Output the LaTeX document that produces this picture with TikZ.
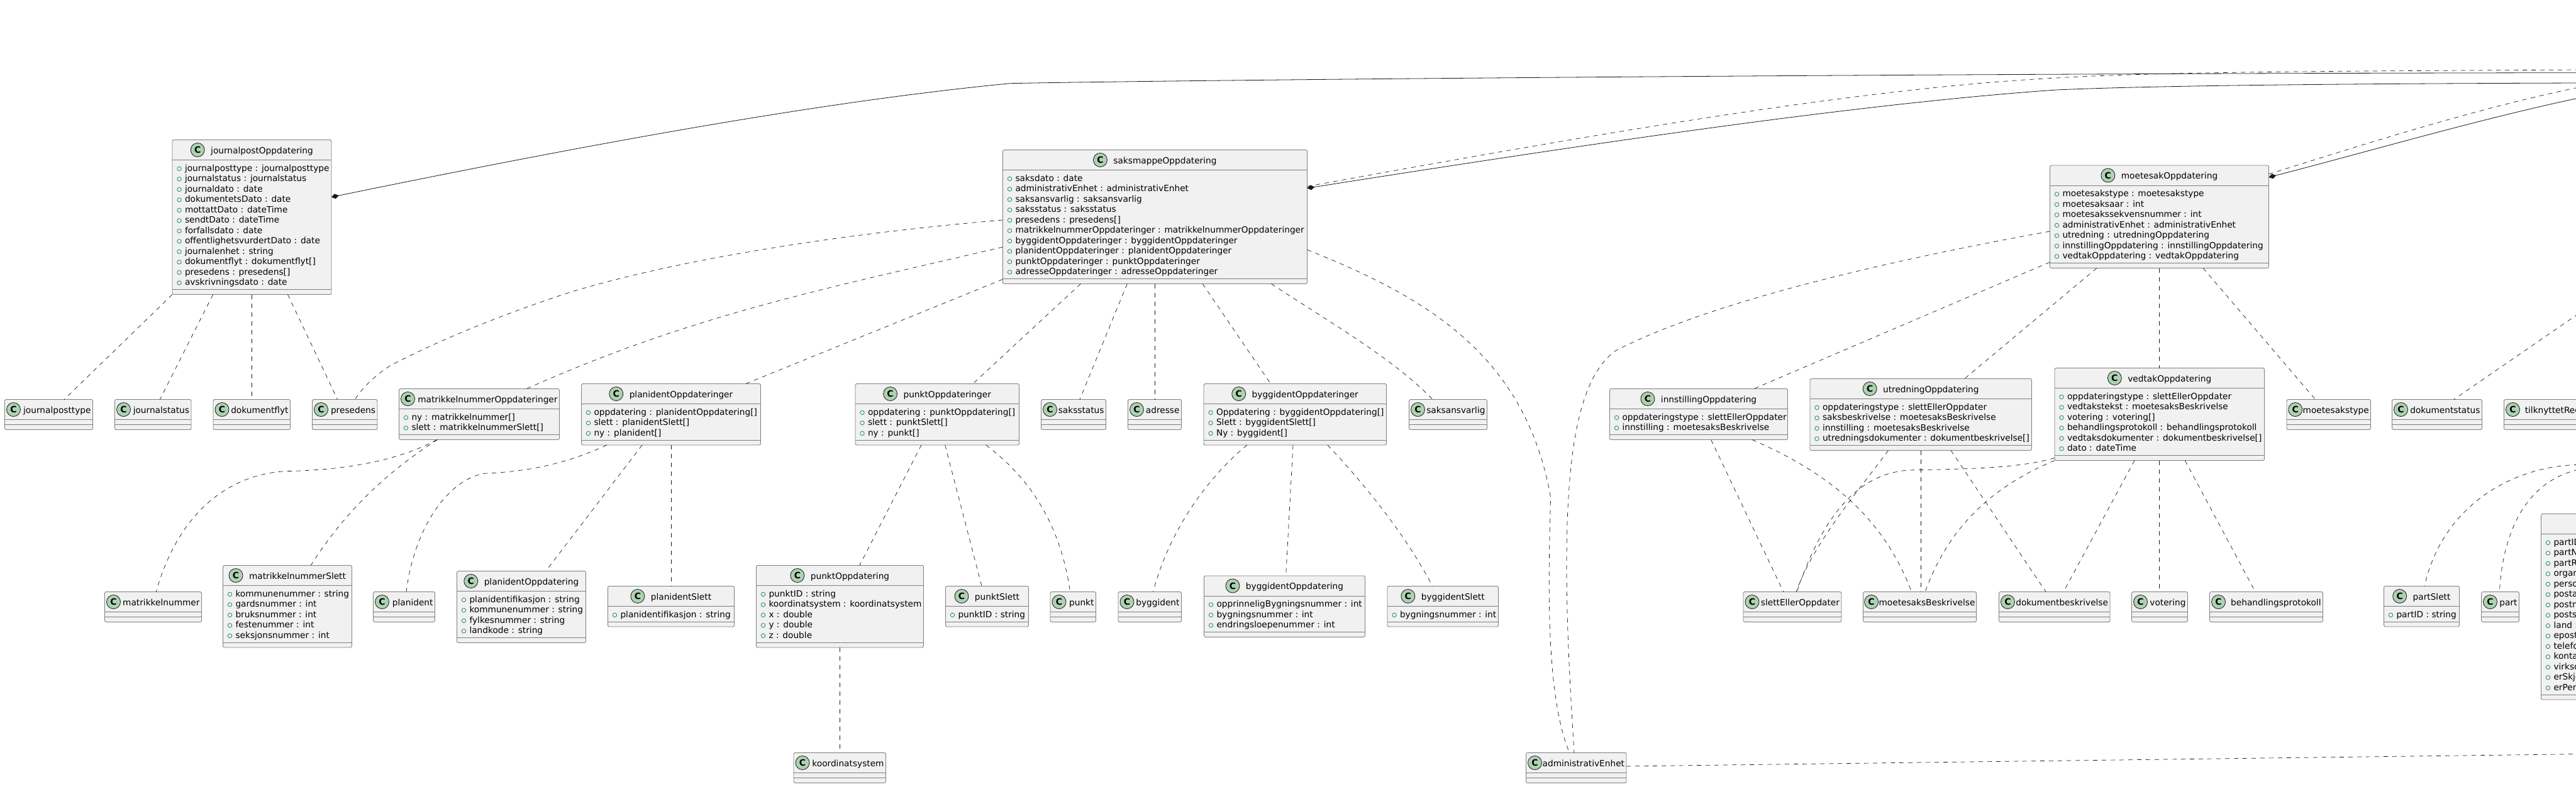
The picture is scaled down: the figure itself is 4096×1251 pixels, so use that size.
\documentclass[tikz,border=0pt]{standalone}
\usepackage{fontspec}
\setmainfont{DejaVu Sans}
\usetikzlibrary{arrows.meta}

\definecolor{classfill}{HTML}{F1F1F1}
\definecolor{classedge}{HTML}{7F7F7F}
\definecolor{iconfill}{HTML}{ADD1B2}
\definecolor{bulletedge}{HTML}{038048}
\definecolor{linkink}{HTML}{181818}

\newlength{\titlewd}
\newsavebox{\titlebox}
\newcommand{\umlfont}{\fontsize{13.7}{16.5}\selectfont}
% id, left, top, right, number of rows, title, rows
\newcommand{\umlclass}[7]{%
    \pgfinterruptpicture\global\setbox\titlebox=\hbox{\umlfont #6}\endpgfinterruptpicture
    \setlength{\titlewd}{\wd\titlebox}%
    \pgfmathsetmacro{\boxw}{#4-#2}%
    \pgfmathsetmacro{\boxh}{48+16.5*#5}%
    \pgfmathsetmacro{\gapw}{min(10,max(1,\boxw-28-\titlewd))}%
    \pgfmathsetmacro{\iconx}{(#2+#4)/2-(22+\gapw+\titlewd)/2+11}%
    \pgfmathsetmacro{\titlex}{\iconx+11+\gapw}%
    \node[classbox, minimum width=\boxw pt, minimum height=\boxh pt] (#1) at (#2,#3) {};
    \draw[classline] ([yshift=-32]#1.north west) -- ([yshift=-32]#1.north east);
    \draw[classline] ([yshift=8]#1.south west) -- ([yshift=8]#1.south east);
    \def\titletext{#6}%
    \ifx\titletext\empty\else
        \node[classicon] (#1-icon) at (\iconx,#3+16) {C};
        \node[classtext] (#1-title) at (\titlex,#3+21.5) {#6};
    \fi
    \ifnum#5>0
        \foreach \rowtext [count=\rowno] in {#7} {
            \node[classbullet] (#1-b\rowno) at (#2+11,#3+29.4+16.5*\rowno) {};
            \node[classtext] (#1-r\rowno) at (#2+20,#3+33+16.5*\rowno) {\rowtext};
        }
    \fi
}

\begin{document}
\begin{tikzpicture}[x=1pt,y=-1pt,>=Stealth]
    \tikzstyle{classbox}=[draw=classedge,fill=classfill,line width=.9pt,rounded corners=2.5pt,anchor=north west,inner sep=0pt,outer sep=0pt]
    \tikzstyle{classline}=[draw=classedge,line width=.9pt]
    \tikzstyle{classicon}=[circle,draw=linkink,fill=iconfill,line width=.8pt,minimum size=22pt,inner sep=0pt,font=\bfseries\fontsize{14}{14}\selectfont]
    \tikzstyle{classtext}=[anchor=base west,inner sep=0pt,outer sep=0pt,font=\umlfont,text=black]
    \tikzstyle{classbullet}=[circle,draw=bulletedge,fill=classfill,line width=.7pt,minimum size=6.5pt,inner sep=0pt]
    \tikzstyle{dep}=[draw=linkink,line width=.7pt,dash pattern=on 7pt off 7pt]
    \tikzstyle{comp}=[draw=linkink,line width=.8pt,{Diamond[length=12pt,width=8pt,fill=linkink]}-]

    \useasboundingbox (0,0) rectangle (4096,1251);
    \clip (0,0) rectangle (4096,1251);

    \umlclass{journalpost}{274}{222.5}{527}{12}{journalpostOppdatering}{journalposttype : journalposttype,journalstatus : journalstatus,journaldato : date,dokumentetsDato : date,mottattDato : dateTime,sendtDato : dateTime,forfallsdato : date,offentlighetsvurdertDato : date,journalenhet : string,dokumentflyt : dokumentflyt[],presedens : presedens[],avskrivningsdato : date}
    \umlclass{journalposttype}{7.5}{635.5}{147.5}{0}{journalposttype}{}
    \umlclass{journalstatus}{182.5}{635.5}{304}{0}{journalstatus}{}
    \umlclass{dokumentflyt}{339}{635.5}{461.5}{0}{dokumentflyt}{}
    \umlclass{presedens}{496.5}{635.5}{600}{0}{presedens}{}

    \umlclass{saksmappe}{1594.5}{238.5}{2078.5}{10}{saksmappeOppdatering}{saksdato : date,administrativEnhet : administrativEnhet,saksansvarlig : saksansvarlig,saksstatus : saksstatus,presedens : presedens[],matrikkelnummerOppdateringer : matrikkelnummerOppdateringer,byggidentOppdateringer : byggidentOppdateringer,planidentOppdateringer : planidentOppdateringer,punktOppdateringer : punktOppdateringer,adresseOppdateringer : adresseOppdateringer}
    \umlclass{matrOppd}{634.5}{618.5}{889.5}{2}{matrikkelnummerOppdateringer}{ny : matrikkelnummer[],slett : matrikkelnummerSlett[]}
    \umlclass{matrNummer}{166.5}{941.5}{320.5}{0}{matrikkelnummer}{}
    \umlclass{matrSlett}{354.5}{899.5}{559.5}{5}{matrikkelnummerSlett}{kommunenummer : string,gardsnummer : int,bruksnummer : int,festenummer : int,seksjonsnummer : int}
    \umlclass{planOppd}{924.5}{610.5}{1209.5}{3}{planidentOppdateringer}{oppdatering : planidentOppdatering[],slett : planidentSlett[],ny : planident[]}
    \umlclass{planident}{593.5}{941.5}{691.5}{0}{planident}{}
    \umlclass{planEn}{726.5}{908.5}{931.5}{4}{planidentOppdatering}{planidentifikasjon : string,kommunenummer : string,fylkesnummer : string,landkode : string}
    \umlclass{planSlett}{966.5}{932.5}{1167.5}{1}{planidentSlett}{planidentifikasjon : string}
    \umlclass{punktOppd}{1360}{610.5}{1620.5}{3}{punktOppdateringer}{oppdatering : punktOppdatering[],slett : punktSlett[],ny : punkt[]}
    \umlclass{punktEn}{1202.5}{899.5}{1468.5}{5}{punktOppdatering}{punktID : string,koordinatsystem : koordinatsystem,x : double,y : double,z : double}
    \umlclass{punktSlett}{1503.5}{932.5}{1635.5}{1}{punktSlett}{punktID : string}
    \umlclass{punkt}{1670}{941.5}{1742.5}{0}{punkt}{}
    \umlclass{koord}{1262}{1197.5}{1408.5}{0}{koordinatsystem}{}
    \umlclass{saksstatus}{1655.5}{635.5}{1758.5}{0}{saksstatus}{}
    \umlclass{adresse}{1793.5}{635.5}{1878.5}{0}{adresse}{}
    \umlclass{byggOppd}{1914}{610.5}{2204.5}{3}{byggidentOppdateringer}{Oppdatering : byggidentOppdatering[],Slett : byggidentSlett[],Ny : byggident[]}
    \umlclass{saksansvarlig}{2240.5}{635.5}{2364.5}{0}{saksansvarlig}{}
    \umlclass{byggident}{1778}{941.5}{1878.5}{0}{byggident}{}
    \umlclass{byggEn}{1914.5}{916}{2170.5}{3}{byggidentOppdatering}{opprinneligBygningsnummer : int,bygningsnummer : int,endringsloepenummer : int}
    \umlclass{byggSlett}{2206}{932.5}{2382.5}{1}{byggidentSlett}{bygningsnummer : int}
    \umlclass{admin}{2426.5}{1197.5}{2586}{0}{administrativEnhet}{}

    \umlclass{moetesak}{3259.5}{263}{3607.5}{7}{moetesakOppdatering}{moetesakstype : moetesakstype,moetesaksaar : int,moetesakssekvensnummer : int,administrativEnhet : administrativEnhet,utredning : utredningOppdatering,innstillingOppdatering : innstillingOppdatering,vedtakOppdatering : vedtakOppdatering}
    \umlclass{innst}{2559.5}{618.5}{2842.5}{2}{innstillingOppdatering}{oppdateringstype : slettEllerOppdater,innstilling : moetesaksBeskrivelse}
    \umlclass{utred}{2878}{602.5}{3230.5}{4}{utredningOppdatering}{oppdateringstype : slettEllerOppdater,saksbeskrivelse : moetesaksBeskrivelse,innstilling : moetesaksBeskrivelse,utredningsdokumenter : dokumentbeskrivelse[]}
    \umlclass{vedtak}{3267}{585.5}{3600.5}{6}{vedtakOppdatering}{oppdateringstype : slettEllerOppdater,vedtakstekst : moetesaksBeskrivelse,votering : votering[],behandlingsprotokoll : behandlingsprotokoll,vedtaksdokumenter : dokumentbeskrivelse[],dato : dateTime}
    \umlclass{moetesakstype}{3636}{635.5}{3769.5}{0}{moetesakstype}{}
    \umlclass{dokumentstatus}{3803.5}{635.5}{3946.5}{0}{dokumentstatus}{}
    \umlclass{tilknyttet}{3981.5}{635.5}{4106}{0}{tilknyttetReg}{}
    \umlclass{slettEller}{2772}{941.5}{2928}{0}{slettEllerOppdater}{}
    \umlclass{moetesaksB}{2962.5}{941.5}{3142.5}{0}{moetesaksBeskrivelse}{}
    \umlclass{dokumentB}{3178.5}{941.5}{3355}{0}{dokumentbeskrivelse}{}
    \umlclass{votering}{3389.5}{941.5}{3478.5}{0}{votering}{}
    \umlclass{behandling}{3513.5}{941.5}{3693.5}{0}{behandlingsprotokoll}{}
    \umlclass{partSlett}{3790.5}{932.5}{3910.5}{1}{partSlett}{partID : string}
    \umlclass{part}{3945.5}{941.5}{4005.5}{0}{part}{}
    \umlclass{partEn}{4040.5}{817.5}{4300}{15}{}{partID,partN,partR,organ,perso,posta,postn,posts,land :,epost,telefo,konta,virkso,erSkje,erPers}

    \coordinate (offJournal)  at (4100,115.7);
    \coordinate (offSaksA)    at (4100,132);
    \coordinate (offSaksB)    at (4100,111);
    \coordinate (offMoeteA)   at (4100,156);
    \coordinate (offMoeteB)   at (4100,139);
    \coordinate (offStatus)   at (4100,499);
    \coordinate (offPartA)    at (4100,739.3);
    \coordinate (offPartB)    at (4100,747);
    \coordinate (offAdmin)    at (4100,1199.6);

    \draw[comp] ([yshift=-91]journalpost.north east) .. controls (900,237) and (1290,163) .. (1606,132.7)
        .. controls (1900,127) and (3000,117) .. (offJournal);
    \draw[comp] ([yshift=-60.8]saksmappe.north east) .. controls (2500,233) and (2950,165) .. (3270,143)
        .. controls (3450,135) and (3800,133) .. (offSaksA);
    \draw[dep] ([yshift=-58]saksmappe.north east) .. controls (2500,220) and (2950,140) .. (3270,124)
        .. controls (3450,113) and (3800,113) .. (offSaksB);
    \draw[comp] ([yshift=-19]moetesak.north east) .. controls (3770,240) and (3940,190) .. (offMoeteA);
    \draw[dep] ([yshift=-14]moetesak.north east) .. controls (3770,226) and (3940,172) .. (offMoeteB);

    \draw[dep] (journalpost.south west) -- ([xshift=94.5]journalposttype.north west);
    \draw[dep] ([xshift=64.7]journalpost.south west) -- ([xshift=71.8]journalstatus.north west);
    \draw[dep] ([xshift=126.7]journalpost.south west) -- ([xshift=61.7]dokumentflyt.north west);
    \draw[dep] ([xshift=183.5]journalpost.south west) -- ([xshift=40.2]presedens.north west);

    \draw[dep] ([yshift=-111.5]saksmappe.north west) .. controls (1300,375) and (1050,420) .. (900,467)
        .. controls (800,500) and (700,540) .. (620,582)
        .. controls (600,595) and (580,612) .. ([xshift=67.8]presedens.north west);
    \draw[dep] ([yshift=-154.5]saksmappe.north west) .. controls (1294,463) and (1097,503) .. ([xshift=202.5]matrOppd.north west);
    \draw[dep] ([yshift=-205.8]saksmappe.north west) -- ([xshift=261.2]planOppd.north west);
    \draw[dep] ([xshift=123.9]saksmappe.south west) -- ([xshift=187]punktOppd.north west);
    \draw[dep] ([xshift=197.8]saksmappe.south west) -- ([xshift=61.3]saksstatus.north west);
    \draw[dep] ([xshift=242.2]saksmappe.south west) -- ([xshift=43.2]adresse.north west);
    \draw[dep] ([xshift=317.7]saksmappe.south west) -- ([xshift=106.4]byggOppd.north west);
    \draw[dep] ([xshift=426.9]saksmappe.south west) .. controls (2110,510) and (2215,570) .. ([xshift=37.5]saksansvarlig.north west);
    \draw[dep] ([yshift=-158.8]saksmappe.north east) .. controls (2260,470) and (2425,560) .. (2465.6,791)
        .. controls (2463,900) and (2455,1100) .. ([xshift=69]admin.north west);

    \draw[dep] ([xshift=60]matrOppd.south west) .. controls (630,735) and (540,748) .. (459,749.5)
        .. controls (370,752) and (285,810) .. ([xshift=81.8]matrNummer.north west);
    \draw[dep] ([xshift=61]matrOppd.south west) .. controls (640,735) and (560,795) .. ([xshift=139.8]matrSlett.north west);
    \draw[dep] ([xshift=40.3]planOppd.south west) .. controls (900,738) and (840,750) .. (773.5,753)
        .. controls (720,758) and (660,830) .. ([xshift=52.5]planident.north west);
    \draw[dep] ([xshift=96.5]planOppd.south west) -- ([xshift=141.4]planEn.north west);
    \draw[dep] ([xshift=142.8]planOppd.south west) -- ([xshift=100.8]planSlett.north west);
    \draw[dep] ([xshift=105]punktOppd.south west) -- ([xshift=164.2]punktEn.north west);
    \draw[dep] ([xshift=142.7]punktOppd.south west) -- ([xshift=57.5]punktSlett.north west);
    \draw[dep] ([xshift=207.7]punktOppd.south west) .. controls (1630,755) and (1685,825) .. ([xshift=31.6]punkt.north west);
    \draw[dep] ([xshift=133.2]punktEn.south west) -- ([xshift=73.7]koord.north west);
    \draw[dep] ([xshift=69]byggOppd.south west) .. controls (1925,755) and (1860,840) .. ([xshift=55.6]byggident.north west);
    \draw[dep] ([xshift=142]byggOppd.south west) -- ([xshift=130.1]byggEn.north west);
    \draw[dep] ([xshift=196.9]byggOppd.south west) .. controls (2165,765) and (2235,850) .. ([xshift=71.7]byggSlett.north west);

    \draw[dep] ([yshift=-105]moetesak.north west) .. controls (3000,415) and (2720,480) .. (2569,557.8)
        .. controls (2510,600) and (2491,720) .. (2491,900)
        .. controls (2491,1000) and (2497,1100) .. ([xshift=76.5]admin.north west);
    \draw[dep] ([yshift=-154]moetesak.north west) -- ([xshift=229.1]innst.north west);
    \draw[dep] ([xshift=74.5]moetesak.south west) -- ([xshift=245.6]utred.north west);
    \draw[dep] ([xshift=173.5]moetesak.south west) -- ([xshift=166]vedtak.north west);
    \draw[dep] ([xshift=243.5]moetesak.south west) -- ([xshift=45.6]moetesakstype.north west);

    \draw[dep] ([xshift=161.1]innst.south west) -- ([xshift=63.8]slettEller.north west);
    \draw[dep] ([xshift=226.5]innst.south west) .. controls (2890,745) and (2990,810) .. ([xshift=77]moetesaksB.north west);
    \draw[dep] ([xshift=124.5]utred.south west) .. controls (2960,775) and (2885,860) .. ([xshift=84]slettEller.north west);
    \draw[dep] ([xshift=175.9]utred.south west) -- ([xshift=91.4]moetesaksB.north west);
    \draw[dep] ([xshift=224]utred.south west) -- ([xshift=74.5]dokumentB.north west);
    \draw[dep] ([yshift=4]vedtak.south west) .. controls (3210,745) and (3130,746) .. (3040.8,747.8)
        .. controls (2950,750) and (2895,830) .. ([xshift=85]slettEller.north west);
    \draw[dep] (vedtak.south west) .. controls (3190,765) and (3105,820) .. ([xshift=98.5]moetesaksB.north west);
    \draw[dep] ([xshift=127]vedtak.south west) -- ([xshift=102.5]dokumentB.north west);
    \draw[dep] ([xshift=166.7]vedtak.south west) -- ([xshift=44.2]votering.north west);
    \draw[dep] ([xshift=207.3]vedtak.south west) -- ([xshift=72.5]behandling.north west);

    \draw[dep] (offStatus) -- ([xshift=98.2]dokumentstatus.north west);
    \draw[dep] (offPartA) .. controls (4000,741) and (3885,800) .. ([xshift=64.5]partSlett.north west);
    \draw[dep] (offPartB) .. controls (4020,765) and (3980,840) .. ([xshift=28.8]part.north west);
    \draw[dep] ([yshift=2.5]admin.east) -- (offAdmin);
\end{tikzpicture}
\end{document}
